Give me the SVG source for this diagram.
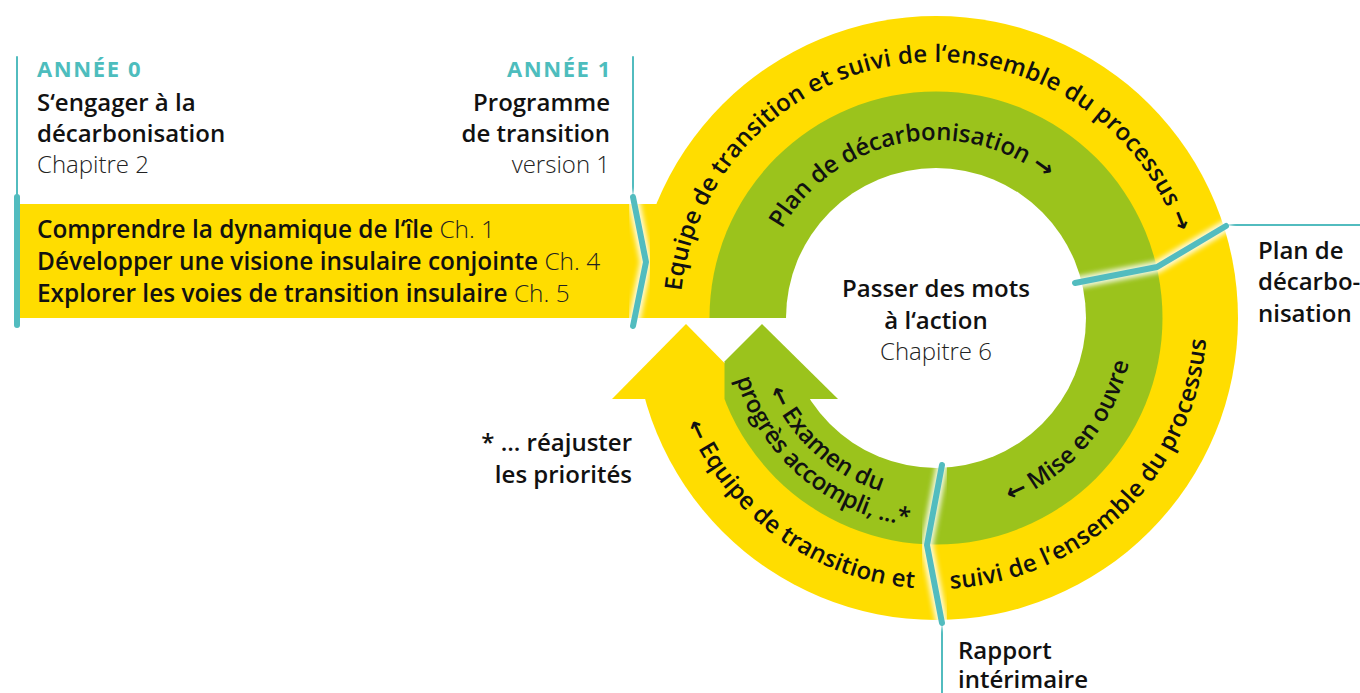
<svg xmlns="http://www.w3.org/2000/svg" width="1360" height="693" viewBox="0 0 1360 693">
  <style>
    text { font-family: "Open Sans", "Noto Sans", "DejaVu Sans", sans-serif; fill: #111; }
    .b { font-size: 24px; font-weight: 600; }
    .l { font-size: 24px; font-weight: 300; fill: #222; }
    .band { font-size: 24.4px; font-weight: 600; }
    .band .l { font-size: 24.4px; }
    .year { font-size: 22px; font-weight: 700; fill: #4dbdbd; letter-spacing: 1.6px; }
    .arc { font-size: 24px; font-weight: 600; }
    .end { text-anchor: end; }
    .mid { text-anchor: middle; }
    .teal { fill: none; stroke: #52bcbf; stroke-linecap: round; stroke-linejoin: round; }
    .thick { stroke-width: 6; }
    .thin { stroke-width: 2; }
    .halo { fill: none; stroke: #ffffff; stroke-width: 12; stroke-linecap: round; stroke-linejoin: round; opacity: 0.85; filter: url(#soft); }
    .yellow { fill: #ffdd00; }
    .green { fill: #9bc31c; }
  </style>
  <defs>
    <filter id="soft" x="-30%" y="-30%" width="160%" height="160%">
      <feGaussianBlur stdDeviation="2.5"/>
    </filter>
    <!-- rings are cut away left of the centre between the band and the arrow bodies -->
    <clipPath id="ringCut">
      <path clip-rule="evenodd" d="M0 0H1360V693H0Z M560 318H900V399H560Z"/>
    </clipPath>
    <!-- text paths (centre 936,318) -->
    <path id="arcOT" d="M681.4,291.2 A256,256 0 0 1 1177.3,232.5"/>
    <path id="arcIT" d="M781.9,229 A178,178 0 0 1 1046.8,178.7"/>
    <path id="arcOB" d="M950.2,588.6 A271,271 0 0 0 1206.2,339.3"/>
    <path id="arcOL" d="M686.5,423.9 A271,271 0 0 0 914.7,588.2"/>
    <path id="arcIB" d="M1010.2,501.6 A198,198 0 0 0 1128.9,362.5"/>
    <path id="arcIL1" d="M769.1,390.6 A182,182 0 0 0 881.3,491.6"/>
    <path id="arcIL2" d="M736.1,379.1 A209,209 0 0 0 908.7,525.2"/>
  </defs>

  <!-- preparation band -->
  <g id="band">
    <rect class="yellow" x="19" y="204" width="681" height="114"/>
  </g>

  <!-- transition cycle rings -->
  <g id="cycle" clip-path="url(#ringCut)">
    <circle class="yellow" cx="936" cy="318" r="302"/>
    <circle class="green" cx="936" cy="318" r="226.5"/>
    <circle fill="#ffffff" cx="936" cy="318" r="150"/>
  </g>

  <!-- arrow heads closing the cycle -->
  <g id="arrowheads">
    <polygon class="yellow" points="686,324 612,399 760,399"/>
    <polygon class="green" points="762,324 838,399 724.5,399 724.5,361.5"/>
  </g>

  <!-- milestone dividers -->
  <g id="connectors">
    <polyline class="teal thin" points="17,57 17,197"/>
    <polyline class="teal thin" points="633,57 633,197"/>
    <polyline class="teal thin" points="1226,225 1360,225"/>
    <polyline class="teal thin" points="942,623 942,693"/>
    <polyline class="halo" points="17,197 17,325"/>
    <polyline class="halo" points="633,197 646,262 633,326"/>
    <polyline class="halo" points="1075,283 1157,267 1226,226"/>
    <polyline class="halo" points="942,465 927,545 942,623"/>
    <polyline class="teal thick" points="17,197 17,325"/>
    <polyline class="teal thick" points="633,197 646,262 633,326"/>
    <polyline class="teal thick" points="1075,283 1157,267 1226,226"/>
    <polyline class="teal thick" points="942,465 927,545 942,623"/>
  </g>

  <g id="year0">
    <text class="year" x="37" y="77">ANNÉE 0</text>
    <text class="b" x="37" y="111">S‘engager à la</text>
    <text class="b" x="37" y="142">décarbonisation</text>
    <text class="l" x="37" y="173">Chapitre 2</text>
  </g>

  <g id="year1">
    <text class="year end" x="612" y="77">ANNÉE 1</text>
    <text class="b end" x="610" y="111">Programme</text>
    <text class="b end" x="610" y="142">de transition</text>
    <text class="l end" x="610" y="173">version 1</text>
  </g>

  <g id="band-text">
    <text class="band" x="37" y="238">Comprendre la dynamique de l‘île <tspan class="l">Ch. 1</tspan></text>
    <text class="band" x="37" y="270">Développer une visione insulaire conjointe <tspan class="l">Ch. 4</tspan></text>
    <text class="band" x="37" y="302">Explorer les voies de transition insulaire <tspan class="l">Ch. 5</tspan></text>
  </g>

  <g id="centre">
    <text class="b mid" x="936" y="297">Passer des mots</text>
    <text class="b mid" x="936" y="329">à l‘action</text>
    <text class="l mid" x="936" y="360">Chapitre 6</text>
  </g>

  <g id="ring-labels">
    <text class="arc"><textPath href="#arcOT" textLength="690" lengthAdjust="spacing">Equipe de transition et suivi de l‘ensemble du processus →</textPath></text>
    <text class="arc"><textPath href="#arcIT" textLength="306" lengthAdjust="spacing">Plan de décarbonisation →</textPath></text>
    <text class="arc"><textPath href="#arcOB" textLength="390" lengthAdjust="spacing">suivi de l‘ensemble du processus</textPath></text>
    <text class="arc"><textPath href="#arcOL" textLength="295" lengthAdjust="spacing">← Equipe de transition et</textPath></text>
    <text class="arc"><textPath href="#arcIB" textLength="190" lengthAdjust="spacing">← Mise en ouvre</textPath></text>
    <text class="arc"><textPath href="#arcIL1" textLength="155" lengthAdjust="spacing">← Examen du</textPath></text>
    <text class="arc"><textPath href="#arcIL2" textLength="239" lengthAdjust="spacing">progrès accompli, ...*</textPath></text>
  </g>

  <g id="milestone-plan">
    <text class="b" x="1258" y="259">Plan de</text>
    <text class="b" x="1258" y="290">décarbo-</text>
    <text class="b" x="1258" y="322">nisation</text>
  </g>

  <g id="milestone-report">
    <text class="b" x="958" y="659">Rapport</text>
    <text class="b" x="958" y="688">intérimaire</text>
  </g>

  <g id="note">
    <text class="b end" x="632" y="451">* ... réajuster</text>
    <text class="b end" x="632" y="483">les priorités</text>
  </g>
</svg>
